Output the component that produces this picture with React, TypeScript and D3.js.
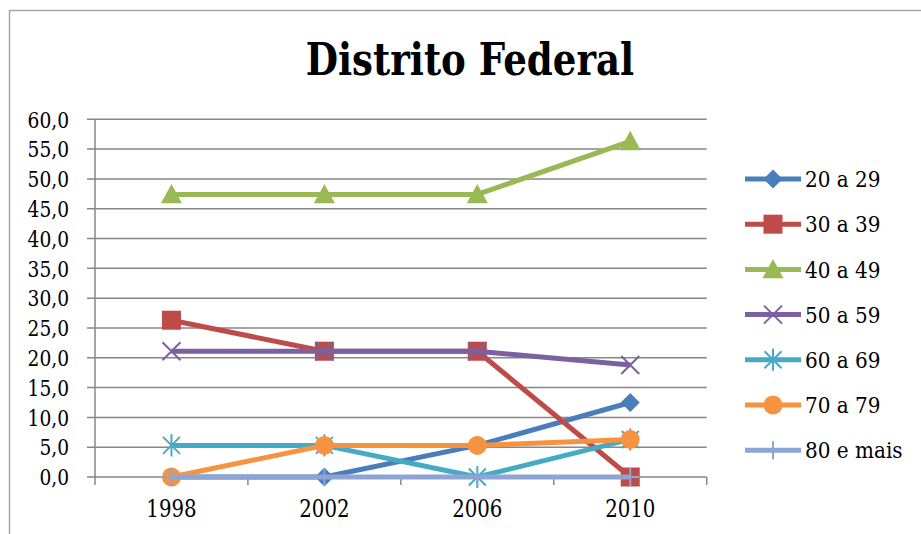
import React from "react";
import * as d3 from "d3";

const years = ["1998", "2002", "2006", "2010"];
const seriesNames = ["20 a 29", "30 a 39", "40 a 49", "50 a 59", "60 a 69", "70 a 79", "80 e mais"];
const s20 = [0, 0, 5.3, 12.5];
const s30 = [26.3, 21.1, 21.1, 0];
const s40 = [47.4, 47.4, 47.4, 56.3];
const s50 = [21.1, 21.1, 21.1, 18.8];
const s60 = [5.3, 5.3, 0, 6.3];
const s70 = [0, 5.3, 5.3, 6.3];
const s80 = [0, 0, 0, 0];
const yTicks = [0, 5, 10, 15, 20, 25, 30, 35, 40, 45, 50, 55, 60];
const colors = ["#4A7EBB", "#BE4B48", "#98B954", "#7D60A0", "#46AAC5", "#F69240", "#8EA5D3"];
const markers = ["diamond", "square", "triangle", "x", "star", "circle", "plus"];
const allSeries = [s20, s30, s40, s50, s60, s70, s80];

const W = 921;
const H = 534;
const left = 95;
const right = 706.7;
const top = 119.3;
const bottom = 477;
const font = "DejaVu Serif, serif";

function Marker({ type, x, y, color }: { type: string; x: number; y: number; color: string }) {
  if (type === "diamond") {
    const r = 9.5;
    return <path d={`M${x},${y - r}L${x + r},${y}L${x},${y + r}L${x - r},${y}Z`} fill={color} />;
  }
  if (type === "square") {
    const r = 9.5;
    return <rect x={x - r} y={y - r} width={2 * r} height={2 * r} fill={color} />;
  }
  if (type === "triangle") {
    const r = 10.5;
    return <path d={`M${x},${y - r}L${x + r},${y + r * 0.85}L${x - r},${y + r * 0.85}Z`} fill={color} />;
  }
  if (type === "circle") {
    return <circle cx={x} cy={y} r={9.5} fill={color} />;
  }
  if (type === "x") {
    const r = 9;
    return (
      <path d={`M${x - r},${y - r}L${x + r},${y + r}M${x - r},${y + r}L${x + r},${y - r}`} stroke={color} strokeWidth={2} />
    );
  }
  if (type === "star") {
    const r = 8.5;
    return (
      <path
        d={`M${x - r},${y - r}L${x + r},${y + r}M${x - r},${y + r}L${x + r},${y - r}M${x},${y - r * 1.3}L${x},${y + r * 1.3}`}
        stroke={color}
        strokeWidth={2}
      />
    );
  }
  const r = 9;
  return <path d={`M${x - r},${y}L${x + r},${y}M${x},${y - r}L${x},${y + r}`} stroke={color} strokeWidth={2} />;
}

export default function App() {
  const x = d3.scaleBand<string>().domain(years).range([left, right]).padding(0);
  const y = d3.scaleLinear().domain([0, 60]).range([bottom, top]);
  const cx = (yr: string) => (x(yr) as number) + x.bandwidth() / 2;
  const line = d3
    .line<number>()
    .x((_, i) => cx(years[i]))
    .y((v) => y(v));
  const boundaries = years.map((yr) => x(yr) as number).concat([right]);
  const legendY = (i: number) => 179 + i * 45.2;

  return (
    <svg width={W} height={H} style={{ position: "absolute", left: 0, top: 0, background: "#fff" }}>
      <rect width={W} height={H} fill="#fff" />
      <path d={`M9.5,${H}V10.5H${W}`} fill="none" stroke="#a6a6a6" strokeWidth={1.5} />
      <g transform="translate(470,75) scale(0.845,1)">
        <text x={0} y={0} textAnchor="middle" fontFamily={font} fontWeight="bold" fontSize={44} fill="#000">
          Distrito Federal
        </text>
      </g>
      {yTicks.map((t) => (
        <g key={t}>
          <line x1={87} x2={right} y1={y(t)} y2={y(t)} stroke="#878787" strokeWidth={1.5} />
          <g transform={`translate(69,${y(t)}) scale(0.81,1)`}>
            <text x={0} y={0} dy="0.36em" textAnchor="end" fontFamily={font} fontSize={23} fill="#000">
              {d3.format(".1f")(t).replace(".", ",")}
            </text>
          </g>
        </g>
      ))}
      <line x1={left} x2={left} y1={top} y2={bottom} stroke="#878787" strokeWidth={1.5} />
      {boundaries.map((b, i) => (
        <line key={i} x1={b} x2={b} y1={bottom} y2={bottom + 8} stroke="#878787" strokeWidth={1.5} />
      ))}
      {years.map((yr) => (
        <g key={yr} transform={`translate(${cx(yr)},517) scale(0.84,1)`}>
          <text x={0} y={0} textAnchor="middle" fontFamily={font} fontSize={23.5} fill="#000">
            {yr}
          </text>
        </g>
      ))}
      {allSeries.map((s, si) => (
        <g key={si}>
          <path d={line(s) || ""} fill="none" stroke={colors[si]} strokeWidth={5} strokeLinejoin="round" />
          {s.map((v, i) => (
            <Marker key={i} type={markers[si]} x={cx(years[i])} y={y(v)} color={colors[si]} />
          ))}
        </g>
      ))}
      {seriesNames.map((n, si) => (
        <g key={n}>
          <line x1={745} x2={801} y1={legendY(si)} y2={legendY(si)} stroke={colors[si]} strokeWidth={5} />
          <Marker type={markers[si]} x={773} y={legendY(si)} color={colors[si]} />
          <g transform={`translate(805,${legendY(si)}) scale(0.87,1)`}>
            <text x={0} y={0} dy="0.36em" fontFamily={font} fontSize={23} fill="#000">
              {n}
            </text>
          </g>
        </g>
      ))}
    </svg>
  );
}
